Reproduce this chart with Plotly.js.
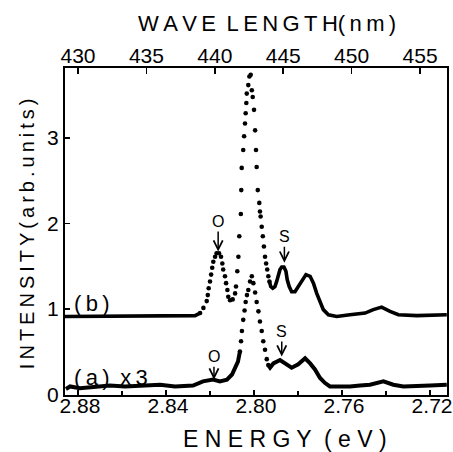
<!DOCTYPE html>
<html>
<head>
<meta charset="utf-8">
<script src="https://cdn.plot.ly/plotly-3.0.1.min.js"></script>
<style>html,body{margin:0;padding:0;background:#fff;}</style>
</head>
<body>
<div id="chart" style="width:453px;height:452px;"></div>
<script>
// ---- data (photon energy in eV, intensity in arb. units) ----
const energyB = [2.8859, 2.8791, 2.8700, 2.8609, 2.8518, 2.8427, 2.8336, 2.8268, 2.8245, 2.8230,
  2.8215, 2.8210, 2.8206, 2.8200, 2.8195, 2.8190, 2.8185, 2.8177, 2.8170, 2.8159,
  2.8150, 2.8144, 2.8140, 2.8132, 2.8127, 2.8121, 2.8117, 2.8109, 2.8097, 2.8086,
  2.8082, 2.8076, 2.8071, 2.8067, 2.8060, 2.8058, 2.8056, 2.8049, 2.8045, 2.8041,
  2.8038, 2.8035, 2.8033, 2.8026, 2.8021, 2.8015, 2.8010, 2.8006, 2.8000, 2.7995,
  2.7991, 2.7988, 2.7983, 2.7976, 2.7973, 2.7970, 2.7965, 2.7960, 2.7955, 2.7950,
  2.7945, 2.7940, 2.7935, 2.7930, 2.7924, 2.7915, 2.7905, 2.7897, 2.7890, 2.7882,
  2.7874, 2.7864, 2.7855, 2.7849, 2.7840, 2.7829, 2.7814, 2.7799, 2.7783, 2.7764,
  2.7745, 2.7730, 2.7715, 2.7700, 2.7685, 2.7662, 2.7624, 2.7564, 2.7495, 2.7458,
  2.7420, 2.7382, 2.7344, 2.7260, 2.7170, 2.7124];
const intensityB = [0.91, 0.91, 0.91, 0.92, 0.91, 0.91, 0.92, 0.92, 0.95, 1.01,
  1.09, 1.16, 1.24, 1.32, 1.40, 1.48, 1.55, 1.61, 1.65, 1.65,
  1.61, 1.53, 1.46, 1.38, 1.30, 1.22, 1.14, 1.10, 1.11, 1.18,
  1.26, 1.44, 1.61, 1.85, 2.11, 2.39, 2.65, 2.86, 3.02, 3.17,
  3.29, 3.41, 3.52, 3.62, 3.72, 3.74, 3.56, 3.48, 3.33, 3.09,
  2.86, 2.66, 2.39, 2.24, 2.14, 2.08, 1.96, 1.85, 1.73, 1.61,
  1.53, 1.46, 1.38, 1.32, 1.26, 1.24, 1.26, 1.32, 1.40, 1.46,
  1.49, 1.49, 1.44, 1.34, 1.26, 1.20, 1.20, 1.26, 1.34, 1.40,
  1.38, 1.30, 1.18, 1.09, 0.99, 0.93, 0.91, 0.93, 0.95, 0.99,
  1.02, 0.97, 0.93, 0.92, 0.93, 0.93];

const energyA = [2.8855, 2.8836, 2.8791, 2.8723, 2.8655, 2.8586, 2.8518, 2.8427, 2.8359, 2.8277,
  2.8232, 2.8186, 2.8155, 2.8123, 2.8100, 2.8086, 2.8073, 2.8064, 2.8059, 2.8055,
  2.8049, 2.8043, 2.8038, 2.8032, 2.8026, 2.8018, 2.8010, 2.8003, 2.7995, 2.7988,
  2.7980, 2.7973, 2.7965, 2.7958, 2.7950, 2.7942, 2.7935, 2.7927, 2.7912, 2.7882,
  2.7859, 2.7829, 2.7799, 2.7768, 2.7745, 2.7723, 2.7700, 2.7677, 2.7655, 2.7609,
  2.7564, 2.7518, 2.7473, 2.7412, 2.7367, 2.7321, 2.7260, 2.7200, 2.7124];
const intensityA = [0.06, 0.09, 0.07, 0.08, 0.10, 0.09, 0.10, 0.11, 0.09, 0.10,
  0.15, 0.17, 0.15, 0.17, 0.23, 0.31, 0.38, 0.50, 0.62, 0.74,
  0.87, 0.98, 1.08, 1.16, 1.22, 1.32, 1.38, 1.30, 1.19, 1.08,
  0.97, 0.85, 0.74, 0.62, 0.52, 0.41, 0.34, 0.31, 0.36, 0.40,
  0.36, 0.31, 0.35, 0.42, 0.36, 0.29, 0.19, 0.13, 0.09, 0.085,
  0.09, 0.10, 0.11, 0.15, 0.11, 0.09, 0.09, 0.10, 0.11];

const energyTicks = [2.88, 2.84, 2.80, 2.76, 2.72];
const wavelengthTicks = [430, 435, 440, 445, 450, 455];
const intensityTicks = [0, 1, 2, 3];

// energy windows where the measured points are sparse enough to show as single dots
const dotWindowB = [2.7930, 2.8245];
const dotWindowA = [2.7935, 2.8064];

function split(xs, ys, win) {
  const solid = {x: [], y: []}, dots = {x: [], y: []};
  let prevSolid = false;
  for (let i = 0; i < xs.length; i++) {
    const inDots = xs[i] >= win[0] && xs[i] <= win[1];
    const onEdge = Math.abs(xs[i] - win[0]) < 1e-9 || Math.abs(xs[i] - win[1]) < 1e-9;
    if (inDots) { dots.x.push(xs[i]); dots.y.push(ys[i]); }
    if (!inDots || onEdge) {
      if (!prevSolid && solid.x.length) { solid.x.push(null); solid.y.push(null); }
      solid.x.push(xs[i]); solid.y.push(ys[i]);
      prevSolid = true;
    } else prevSolid = false;
  }
  return {solid, dots};
}

const sb = split(energyB, intensityB, dotWindowB);
const sa = split(energyA, intensityA, dotWindowA);
const ink = '#000';
const FONT = 'Liberation Sans, Arial, sans-serif';

const traces = [
  {x: sb.solid.x, y: sb.solid.y, mode: 'lines', line: {color: ink, width: 3.6}, connectgaps: false, hoverinfo: 'skip', showlegend: false},
  {x: sb.dots.x, y: sb.dots.y, mode: 'markers', marker: {color: ink, size: 4.6}, showlegend: false},
  {x: sa.solid.x, y: sa.solid.y, mode: 'lines', line: {color: ink, width: 4}, connectgaps: false, hoverinfo: 'skip', showlegend: false},
  {x: sa.dots.x, y: sa.dots.y, mode: 'markers', marker: {color: ink, size: 4.6}, showlegend: false},
  // invisible trace to activate the top wavelength axis
  {x: [wavelengthTicks[0]], y: [0], xaxis: 'x2', yaxis: 'y', mode: 'markers', marker: {opacity: 0}, hoverinfo: 'skip', showlegend: false}
];

const TS = '\u2009';
const spaced = s => s.split('').join(TS);

const layout = {
  width: 453, height: 452,
  margin: {l: 65, r: 6, t: 68, b: 57},
  paper_bgcolor: '#fff', plot_bgcolor: '#fff',
  font: {family: FONT, color: ink, size: 20},
  showlegend: false,
  xaxis: {
    range: [2.8859, 2.7123],
    tickmode: 'array', tickvals: energyTicks, ticktext: energyTicks.map(v => v.toFixed(2)),
    ticks: 'inside', ticklen: 5, tickwidth: 1.5, tickcolor: ink,
    ticklabelstandoff: -9, ticklabelshift: -2, ticklabeloverflow: 'allow',
    minor: {tickmode: 'linear', tick0: 2.72, dtick: 0.02, ticks: 'inside', ticklen: 4, tickwidth: 1.5, tickcolor: ink},
    showline: true, linewidth: 2, linecolor: ink, mirror: false,
    showgrid: false, zeroline: false,
    tickfont: {family: FONT, size: 21, color: ink}
  },
  xaxis2: {
    overlaying: 'x', side: 'top', anchor: 'y',
    range: [429.05, 456.97],
    tickmode: 'array', tickvals: wavelengthTicks, ticktext: wavelengthTicks.map(String),
    ticks: 'inside', ticklen: 6, tickwidth: 1.5, tickcolor: ink,
    ticklabelstandoff: -5,
    showline: true, linewidth: 2, linecolor: ink,
    showgrid: false, zeroline: false,
    tickfont: {family: FONT, size: 21, color: ink}
  },
  yaxis: {
    range: [-0.01, 3.82],
    tickmode: 'array', tickvals: intensityTicks, ticktext: intensityTicks.map(String),
    ticks: 'inside', ticklen: 5, tickwidth: 1.5, tickcolor: ink,
    showline: true, linewidth: 2, linecolor: ink, mirror: true,
    showgrid: false, zeroline: false,
    tickfont: {family: FONT, size: 21, color: ink}
  },
  annotations: [
    {xref: 'paper', yref: 'paper', x: 0.576, y: -0.134, xanchor: 'center', yanchor: 'middle', showarrow: false,
     text: 'E N E R G Y  ( e V )', font: {family: FONT, size: 23, color: ink}},
    {xref: 'paper', yref: 'paper', x: 0.529, y: 1.1376, xanchor: 'center', yanchor: 'middle', showarrow: false,
     text: spaced('WAVE') + ' ' + TS + spaced('LENGTH') + '(' + TS + 'n' + TS + 'm' + TS + ')',
     font: {family: FONT, size: 22, color: ink}},
    {xref: 'paper', yref: 'paper', x: -0.0995, y: 0.495, xanchor: 'center', yanchor: 'middle', showarrow: false, textangle: -90,
     text: spaced('INTENSITY') + TS + spaced('(arb.units)'), font: {family: FONT, size: 20, color: ink}},
    {xref: 'x', yref: 'y', x: 2.8827, y: 1.06, xanchor: 'left', yanchor: 'middle', showarrow: false,
     text: '(' + TS + 'b' + TS + ')', font: {family: FONT, size: 22, color: ink}},
    {xref: 'x', yref: 'y', x: 2.8827, y: 0.20, xanchor: 'left', yanchor: 'middle', showarrow: false,
     text: '(' + TS + 'a' + TS + ')' + TS + ' x' + TS + '3', font: {family: FONT, size: 22, color: ink}},
    {xref: 'x', yref: 'y', x: 2.8163, y: 1.67, ax: 0, ay: -30, text: 'O', showarrow: true,
     arrowhead: 5, arrowsize: 1.2, arrowwidth: 1.5, arrowcolor: ink, font: {family: FONT, size: 16, color: ink}},
    {xref: 'x', yref: 'y', x: 2.7862, y: 1.54, ax: 0, ay: -26, text: 'S', showarrow: true,
     arrowhead: 5, arrowsize: 1.2, arrowwidth: 1.5, arrowcolor: ink, font: {family: FONT, size: 16, color: ink}},
    {xref: 'x', yref: 'y', x: 2.8182, y: 0.17, ax: 0, ay: -23, text: 'O', showarrow: true,
     arrowhead: 5, arrowsize: 1.2, arrowwidth: 1.5, arrowcolor: ink, font: {family: FONT, size: 16, color: ink}},
    {xref: 'x', yref: 'y', x: 2.7874, y: 0.44, ax: 0, ay: -25, text: 'S', showarrow: true,
     arrowhead: 5, arrowsize: 1.2, arrowwidth: 1.5, arrowcolor: ink, font: {family: FONT, size: 16, color: ink}}
  ]
};

Plotly.newPlot('chart', traces, layout, {staticPlot: true, displayModeBar: false});
</script>
</body>
</html>
